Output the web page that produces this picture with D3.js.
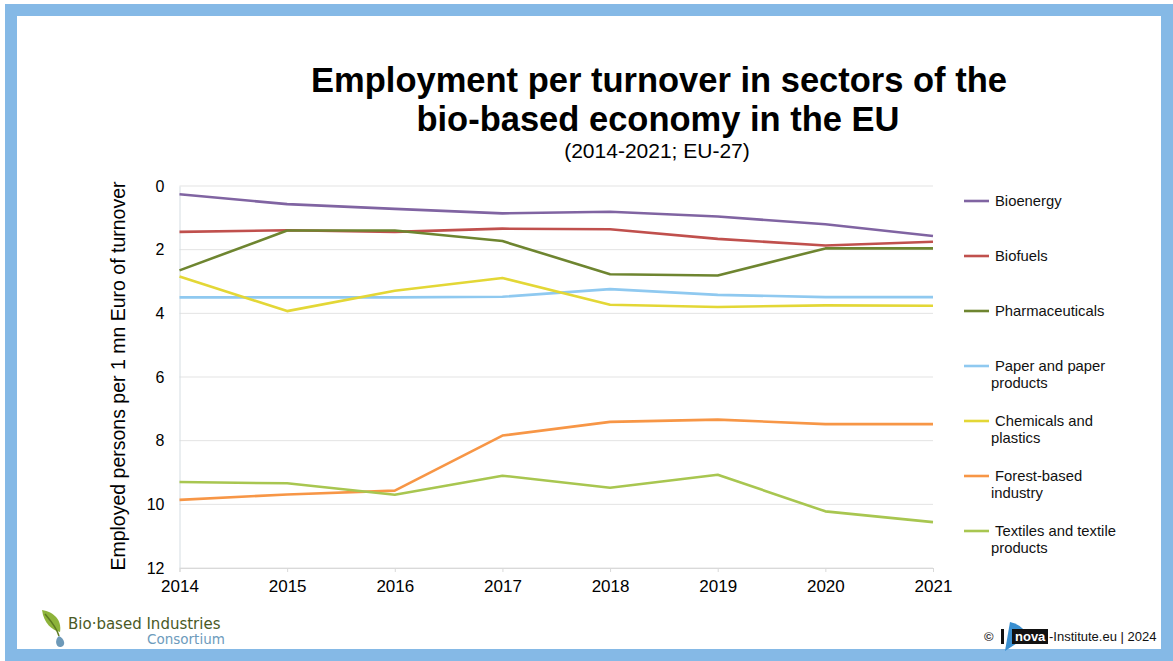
<!DOCTYPE html>
<html>
<head>
<meta charset="utf-8">
<script src="https://cdn.jsdelivr.net/npm/d3@7"></script>
<style>
  body { margin: 0; background: #fff; }
  svg { display: block; font-family: "Liberation Sans", Arial, sans-serif; }
</style>
</head>
<body>
<script>
// data
const years = [2014, 2015, 2016, 2017, 2018, 2019, 2020, 2021];
const sectors = ["Bioenergy", "Biofuels", "Pharmaceuticals", "Paper and paper products",
  "Chemicals and plastics", "Forest-based industry", "Textiles and textile products"];
const bioenergy = [0.26, 0.57, 0.72, 0.86, 0.81, 0.96, 1.2, 1.57];
const biofuels = [1.44, 1.39, 1.44, 1.34, 1.36, 1.66, 1.87, 1.75];
const pharma = [2.65, 1.40, 1.40, 1.73, 2.77, 2.81, 1.96, 1.96];
const paper = [3.5, 3.5, 3.5, 3.48, 3.24, 3.42, 3.49, 3.49];
const chemicals = [2.84, 3.93, 3.29, 2.89, 3.73, 3.80, 3.75, 3.76];
const forest = [9.86, 9.69, 9.57, 7.84, 7.41, 7.34, 7.48, 7.48];
const textiles = [9.30, 9.34, 9.70, 9.10, 9.48, 9.07, 10.22, 10.56];
const yTicks = [0, 2, 4, 6, 8, 10, 12];

const seriesValues = [bioenergy, biofuels, pharma, paper, chemicals, forest, textiles];
const colours = ["#8064a2", "#c0504d", "#6e8530", "#8fc9f0", "#e3d736", "#f79646", "#a8c650"];
const legendLines = [["Bioenergy"], ["Biofuels"], ["Pharmaceuticals"], ["Paper and paper", "products"],
  ["Chemicals and", "plastics"], ["Forest-based", "industry"], ["Textiles and textile", "products"]];

const width = 1173, height = 661;
const svg = d3.select("body").append("svg")
  .attr("width", width)
  .attr("height", height);

// blue frame
svg.append("rect").attr("x", 11).attr("y", 10).attr("width", 1156).attr("height", 645)
  .attr("fill", "#fff").attr("stroke", "#85b9e6").attr("stroke-width", 12);

// titles
svg.append("text").attr("x", 659).attr("y", 92).attr("text-anchor", "middle")
  .attr("font-size", 34.5).attr("font-weight", "bold").attr("fill", "#000")
  .text("Employment per turnover in sectors of the");
svg.append("text").attr("x", 658).attr("y", 131).attr("text-anchor", "middle")
  .attr("font-size", 34.5).attr("font-weight", "bold").attr("fill", "#000")
  .text("bio-based economy in the EU");
svg.append("text").attr("x", 657).attr("y", 158).attr("text-anchor", "middle")
  .attr("font-size", 21).attr("fill", "#000")
  .text("(2014-2021; EU-27)");

const x = d3.scaleLinear().domain([2014, 2021]).range([179.5, 933]);
const y = d3.scaleLinear().domain([0, 12]).range([186, 568]);

// gridlines
svg.append("g").selectAll("line").data(yTicks).enter().append("line")
  .attr("x1", x(2014)).attr("x2", x(2021))
  .attr("y1", d => y(d)).attr("y2", d => y(d))
  .attr("stroke", "#e3e3e3").attr("stroke-width", 1);

// y axis
const yAxis = svg.append("g").attr("transform", `translate(${x(2014)},0)`)
  .call(d3.axisLeft(y).tickValues(yTicks).tickSize(0).tickPadding(15));
yAxis.select(".domain").attr("stroke", "#d5dde2");
yAxis.selectAll("text").attr("font-size", 16).attr("fill", "#000")
  .attr("font-family", "Liberation Sans, Arial, sans-serif");

// x axis
const xAxis = svg.append("g").attr("transform", `translate(0,${y(12)})`)
  .call(d3.axisBottom(x).tickValues(years).tickFormat(d3.format("d")).tickSize(4).tickPadding(8));
xAxis.select(".domain").attr("stroke", "#d9d9d9");
xAxis.selectAll(".tick line").attr("stroke", "#d9d9d9");
xAxis.selectAll("text").attr("font-size", 17).attr("fill", "#000")
  .attr("font-family", "Liberation Sans, Arial, sans-serif");

// y axis title
svg.append("text")
  .attr("transform", "translate(125,376) rotate(-90)")
  .attr("text-anchor", "middle").attr("font-size", 19.5).attr("fill", "#000")
  .text("Employed persons per 1 mn Euro of turnover");

// lines
const line = d3.line().x((d, i) => x(years[i])).y(d => y(d));
svg.append("g").selectAll("path").data(seriesValues).enter().append("path")
  .attr("d", line)
  .attr("fill", "none")
  .attr("stroke", (d, i) => colours[i])
  .attr("stroke-width", 2.6)
  .attr("stroke-linejoin", "round");

// legend
const legend = svg.append("g").selectAll("g").data(sectors).enter().append("g")
  .attr("transform", (d, i) => `translate(964,${201 + i * 55})`);
legend.append("line").attr("x1", 0).attr("x2", 25).attr("y1", 0).attr("y2", 0)
  .attr("stroke", (d, i) => colours[i]).attr("stroke-width", 2.6);
legend.append("text").attr("font-size", 14.8).attr("fill", "#111")
  .each(function (d, i) {
    const t = d3.select(this);
    legendLines[i].forEach((s, j) => {
      t.append("tspan").attr("x", j === 0 ? 31 : 27).attr("y", 5 + j * 17).text(s);
    });
  });

// Bio-based Industries Consortium logo
const bbi = svg.append("g").attr("transform", "translate(40,610)");
bbi.append("path").attr("d", "M2,0 C14,2 22,10 20,22 C12,20 4,14 2,0 Z").attr("fill", "#8db33a");
bbi.append("path").attr("d", "M5,4 C10,10 16,16 19,26").attr("stroke", "#5d7a22").attr("fill", "none").attr("stroke-width", 1.5);
bbi.append("path").attr("d", "M19,26 C14,30 16,38 21,37 C26,36 25,29 19,26 Z").attr("fill", "#6d99b8");
bbi.append("text").attr("x", 28).attr("y", 19).attr("font-size", 15).attr("fill", "#4a5a26")
  .attr("font-family", "DejaVu Sans, sans-serif").text("Bio\u00b7based Industries");
bbi.append("text").attr("x", 107).attr("y", 34).attr("font-size", 13.5).attr("fill", "#6d9bbc")
  .attr("font-family", "DejaVu Sans, sans-serif").text("Consortium");

// nova-Institute footer
const nova = svg.append("g").attr("transform", "translate(984,628)");
nova.append("text").attr("x", 0).attr("y", 13).attr("font-size", 13).attr("font-weight", "bold").attr("fill", "#333").text("\u00a9");
nova.append("path").attr("d", "M21,23 L26,-6 C34,-4 40,0 44,8 Z").attr("fill", "#3a8fd0");
nova.append("rect").attr("x", 17).attr("y", 1).attr("width", 3).attr("height", 15).attr("fill", "#111");
nova.append("rect").attr("x", 28).attr("y", 1).attr("width", 36).attr("height", 15).attr("fill", "#111");
nova.append("text").attr("x", 31).attr("y", 13).attr("font-size", 13).attr("font-weight", "bold").attr("fill", "#fff").text("nova");
nova.append("text").attr("x", 65).attr("y", 13).attr("font-size", 13).attr("fill", "#111").text("-Institute.eu | 2024");
</script>
</body>
</html>
